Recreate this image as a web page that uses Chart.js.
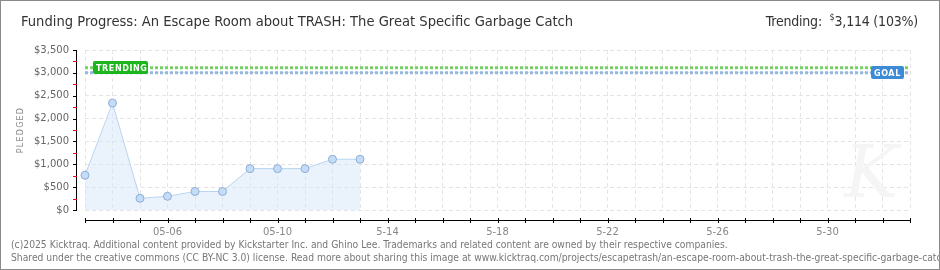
<!DOCTYPE html>
<html>
<head>
<meta charset="utf-8">
<script src="https://cdn.jsdelivr.net/npm/chart.js@4/dist/chart.umd.min.js"></script>
<style>
  body { margin: 0; background: #fff; }
  #wrap { position: relative; width: 938px; height: 268px; border: 1px solid #8a8a8a; overflow: hidden; font-family: "DejaVu Sans Condensed", "DejaVu Sans", sans-serif; }
  #chart { position: absolute; left: -1px; top: -1px; }
  #title { position: absolute; left: 20px; top: 11px; font-size: 14.6px; color: #333; white-space: nowrap; font-stretch: condensed; }
  #trend { position: absolute; right: 21px; top: 11px; font-size: 14px; color: #333; white-space: nowrap; font-stretch: condensed; letter-spacing: -0.2px; }
  #trend sup { font-size: 9px; }
  .foot { position: absolute; left: 10px; font-size: 10.25px; color: #777; white-space: nowrap; font-family: "Liberation Sans Narrow", "DejaVu Sans Condensed", sans-serif; font-stretch: condensed; }
</style>
</head>
<body>
<div id="wrap">
  <canvas id="chart" width="940" height="270"></canvas>
  <div id="title">Funding Progress: An Escape Room about TRASH: The Great Specific Garbage Catch</div>
  <div id="trend">Trending: &nbsp;<sup>$</sup>3,114 (103%)</div>
  <div class="foot" style="top:237px">(c)2025 Kicktraq. Additional content provided by Kickstarter Inc. and Ghino Lee. Trademarks and related content are owned by their respective companies.</div>
  <div class="foot" style="top:250px">Shared under the creative commons (CC BY-NC 3.0) license. Read more about sharing this image at www.kicktraq.com/projects/escapetrash/an-escape-room-about-trash-the-great-specific-garbage-catch/</div>
</div>
<script>
// days of the campaign, 05-03 .. 06-02
const days = ['05-03', '05-04', '05-05', '05-06', '05-07', '05-08', '05-09', '05-10', '05-11', '05-12',
    '05-13', '05-14', '05-15', '05-16', '05-17', '05-18', '05-19', '05-20', '05-21', '05-22',
    '05-23', '05-24', '05-25', '05-26', '05-27', '05-28', '05-29', '05-30', '05-31', '06-01', '06-02'];
// labels shown under the x axis
const tickLabels = ['', '', '', '05-06', '', '', '', '05-10', '', '', '', '5-14', '', '', '', '5-18',
    '', '', '', '5-22', '', '', '', '5-26', '', '', '', '5-30', '', '', ''];
const pledged = [760, 2340, 255, 300, 405, 405, 905, 905, 905, 1110, 1110];
const goal = 3000;
const trending = 3114;

const canvas = document.getElementById('chart');

// faint logo behind the plot
const watermark = {
    id: 'watermark',
    beforeDatasetsDraw(chart) {
        const ctx = chart.ctx;
        const area = chart.chartArea;
        ctx.save();
        ctx.fillStyle = '#f5f5f5';
        ctx.font = 'italic 72px "DejaVu Serif"';
        ctx.textAlign = 'right';
        ctx.textBaseline = 'bottom';
        ctx.fillText('K', area.right - 12, area.bottom + 4);
        ctx.restore();
    }
};

// axis lines, ticks, axis title and the TRENDING / GOAL tags
const decor = {
    id: 'decor',
    afterDraw(chart) {
        const ctx = chart.ctx;
        const y = chart.scales.y;
        const x = chart.scales.x;
        const area = chart.chartArea;
        ctx.save();
        // y axis
        const ax = area.left - 9;
        ctx.fillStyle = '#000';
        ctx.fillRect(ax, area.top, 1, area.bottom - area.top + 1);
        for (let v = 0; v <= 3500; v += 250) {
            const py = Math.round(y.getPixelForValue(v));
            ctx.fillStyle = v % 500 === 0 ? '#000' : '#e01010';
            ctx.fillRect(ax - 3, py, 4, 1);
        }
        // x axis
        const by = Math.round(area.bottom) + 10;
        ctx.fillStyle = '#000';
        ctx.fillRect(area.left, by, area.right - area.left + 1, 1);
        days.forEach((d, i) => {
            const px = Math.round(x.getPixelForValue(i));
            ctx.fillRect(px, by - 2, 1, 5);
        });
        // axis title
        ctx.save();
        ctx.translate(21, (area.top + area.bottom) / 2);
        ctx.rotate(-Math.PI / 2);
        ctx.fillStyle = '#888';
        ctx.font = '8px "DejaVu Sans"';
        ctx.letterSpacing = '1.2px';
        ctx.textAlign = 'center';
        ctx.textBaseline = 'middle';
        ctx.fillText('PLEDGED', 0, 0);
        ctx.restore();
        // tags
        function tag(text, color, cx, cy, w, alignRight) {
            const h = 13;
            const left = alignRight ? cx - w : cx;
            ctx.fillStyle = color;
            ctx.beginPath();
            ctx.roundRect(left, Math.round(cy - h / 2), w, h, 2);
            ctx.fill();
            ctx.fillStyle = '#fff';
            ctx.font = 'bold 8px "DejaVu Sans"';
            ctx.textBaseline = 'middle';
            ctx.textAlign = 'left';
            ctx.letterSpacing = '0.6px';
            ctx.fillText(text, left + 3, Math.round(cy) + 0.5);
        }
        tag('TRENDING', '#1cb51c', area.left + 8, y.getPixelForValue(trending), 55, false);
        tag('GOAL', '#3d8bd6', area.right - 6, y.getPixelForValue(goal), 33, true);
        ctx.restore();
    }
};

new Chart(canvas, {
    type: 'line',
    data: {
        labels: days,
        datasets: [{
            data: pledged,
            borderColor: '#b8d5f2',
            borderWidth: 1,
            backgroundColor: 'rgba(214, 230, 248, 0.5)',
            fill: 'origin',
            tension: 0,
            pointRadius: 4,
            pointBackgroundColor: '#c4dcf6',
            pointBorderColor: '#8eaed6',
            pointBorderWidth: 1
        }, {
            data: [{ x: days[0], y: trending }, { x: days[days.length - 1], y: trending }],
            borderColor: '#74d463',
            borderWidth: 3,
            borderDash: [3, 2],
            pointRadius: 0,
            fill: false
        }, {
            data: [{ x: days[0], y: goal }, { x: days[days.length - 1], y: goal }],
            borderColor: '#94b8e2',
            borderWidth: 3,
            borderDash: [3, 2],
            pointRadius: 0,
            fill: false
        }]
    },
    options: {
        responsive: false,
        animation: false,
        layout: { padding: { top: 50, right: 30, left: 0, bottom: 0 } },
        plugins: {
            legend: { display: false },
            tooltip: { enabled: false }
        },
        scales: {
            x: {
                offset: false,
                afterFit(scale) { scale.height = 60; },
                grid: { color: '#e4e4e4', drawTicks: false },
                border: { display: false, dash: [4, 3] },
                ticks: {
                    autoSkip: false,
                    maxRotation: 0,
                    padding: 16,
                    color: '#888',
                    font: { family: 'DejaVu Sans', size: 10 },
                    callback: (v, i) => tickLabels[i]
                }
            },
            y: {
                min: 0,
                max: 3500,
                afterFit(scale) { scale.width = 85; },
                grid: { color: '#e4e4e4', drawTicks: false },
                border: { display: false, dash: [4, 3] },
                ticks: {
                    stepSize: 500,
                    padding: 16,
                    color: '#666',
                    font: { family: 'DejaVu Sans', size: 10 },
                    callback: v => '$' + v.toLocaleString('en-US')
                }
            }
        }
    },
    plugins: [watermark, decor]
});
</script>
</body>
</html>
